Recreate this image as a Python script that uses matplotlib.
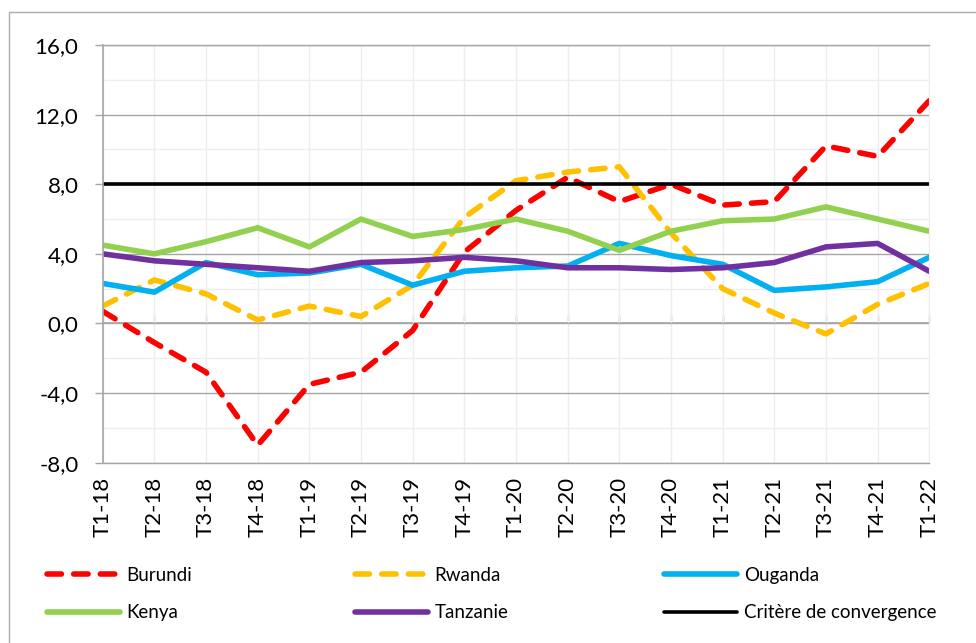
import matplotlib
matplotlib.use("Agg")
import matplotlib.pyplot as plt
from matplotlib.ticker import MultipleLocator, FuncFormatter
from matplotlib.patches import Rectangle

plt.rcParams['font.family'] = ['Lato', 'DejaVu Sans']

periods = ["T1-18", "T2-18", "T3-18", "T4-18", "T1-19", "T2-19", "T3-19", "T4-19",
           "T1-20", "T2-20", "T3-20", "T4-20", "T1-21", "T2-21", "T3-21", "T4-21", "T1-22"]
burundi = [0.7, -1.1, -2.8, -7.0, -3.5, -2.8, -0.4, 4.1, 6.5, 8.4, 7.0, 8.0, 6.8, 7.0, 10.2, 9.6, 12.8]
rwanda = [1.0, 2.5, 1.7, 0.2, 1.0, 0.4, 2.2, 6.1, 8.2, 8.7, 9.0, 5.2, 2.0, 0.6, -0.6, 1.1, 2.3]
ouganda = [2.3, 1.8, 3.5, 2.8, 2.9, 3.4, 2.2, 3.0, 3.2, 3.3, 4.6, 3.9, 3.4, 1.9, 2.1, 2.4, 3.8]
kenya = [4.5, 4.0, 4.7, 5.5, 4.4, 6.0, 5.0, 5.4, 6.0, 5.3, 4.2, 5.3, 5.9, 6.0, 6.7, 6.0, 5.3]
tanzanie = [4.0, 3.6, 3.4, 3.2, 3.0, 3.5, 3.6, 3.8, 3.6, 3.2, 3.2, 3.1, 3.2, 3.5, 4.4, 4.6, 3.0]
critere = [8.0, 8.0, 8.0, 8.0, 8.0, 8.0, 8.0, 8.0, 8.0, 8.0, 8.0, 8.0, 8.0, 8.0, 8.0, 8.0, 8.0]

W, H = 976, 643
fig = plt.figure(figsize=(W / 100, H / 100), dpi=100)
left_px, right_px, top_px, bot_px = 102.7, 929.3, 45.0, 462.7
ax = fig.add_axes([left_px / W, 1 - bot_px / H, (right_px - left_px) / W, (bot_px - top_px) / H])

# outer frame
fig.patches.append(Rectangle((8.7 / W, -0.1), 2.0, 1.1 - 12 / H, transform=fig.transFigure,
                             fill=False, edgecolor='#ABABAB', lw=1.0))

x = list(range(len(periods)))
ymin, ymax = -8, 16
ax.set_xlim(0, len(periods) - 1)
ax.set_ylim(ymin, ymax)

major_gray = '#A6A6A6'
light = '#EDEDED'

ax.set_axisbelow(True)
ax.yaxis.set_major_locator(MultipleLocator(4))
ax.yaxis.set_minor_locator(MultipleLocator(2))
ax.yaxis.set_major_formatter(FuncFormatter(lambda v, p: f"{v:.1f}".replace('.', ',')))
ax.grid(axis='y', which='major', color=major_gray, lw=1.0)
ax.grid(axis='y', which='minor', color=light, lw=1.0)
ax.set_xticks(x)
ax.set_xticklabels(periods, rotation=90, fontsize=16)
ax.grid(axis='x', which='major', color=light, lw=1.0)

ax.tick_params(axis='y', which='major', direction='out', length=5.5, width=1.0,
               color=major_gray, pad=12, labelsize=16)
ax.tick_params(axis='y', which='minor', length=0)
ax.tick_params(axis='x', which='major', length=0, pad=10)

for s in ['top', 'bottom']:
    ax.spines[s].set_color(major_gray)
    ax.spines[s].set_linewidth(1.0)
ax.spines['right'].set_color(light)
ax.spines['left'].set_color(major_gray)
ax.spines['left'].set_linewidth(1.2)

# horizontal axis line crossing at zero with tick marks
sec = ax.secondary_xaxis((0 - ymin) / (ymax - ymin))
sec.set_xticks(x)
sec.tick_params(axis='x', direction='in', length=5.5, width=1.0, color=major_gray,
                labelbottom=False, labeltop=False)
for s in sec.spines.values():
    s.set_color(major_gray)
    s.set_linewidth(1.2)

lw = 4.0
common = dict(solid_capstyle='round', solid_joinstyle='round',
              dash_capstyle='round', dash_joinstyle='round')
ax.plot(x, burundi, color='#FF0000', lw=lw, linestyle=(0, (2.6, 2.2)), label='Burundi', **common)
ax.plot(x, rwanda, color='#FFC000', lw=lw, linestyle=(0, (2.6, 2.2)), label='Rwanda', **common)
ax.plot(x, ouganda, color='#00B0F0', lw=lw, label='Ouganda', **common)
ax.plot(x, kenya, color='#92D050', lw=lw, label='Kenya', **common)
ax.plot(x, tanzanie, color='#7030A0', lw=lw, label='Tanzanie', **common)
ax.plot(x, critere, color='#000000', lw=2.6, label='Critère de convergence', **common)

handles, labels = ax.get_legend_handles_labels()
hmap = dict(zip(labels, handles))
columns = [(['Burundi', 'Kenya'], 50), (['Rwanda', 'Tanzanie'], 358), (['Ouganda', 'Critère de convergence'], 667)]
ymid = 1 - 594 / H
for names, xpx in columns:
    leg = fig.legend([hmap[n] for n in names], names, loc='center left',
                     bbox_to_anchor=((xpx - 3) / W, ymid), frameon=False, fontsize=13.5,
                     borderpad=0, borderaxespad=0, handlelength=3.9, handletextpad=0.35,
                     labelspacing=1.1)

fig.savefig('out.png', dpi=100)
